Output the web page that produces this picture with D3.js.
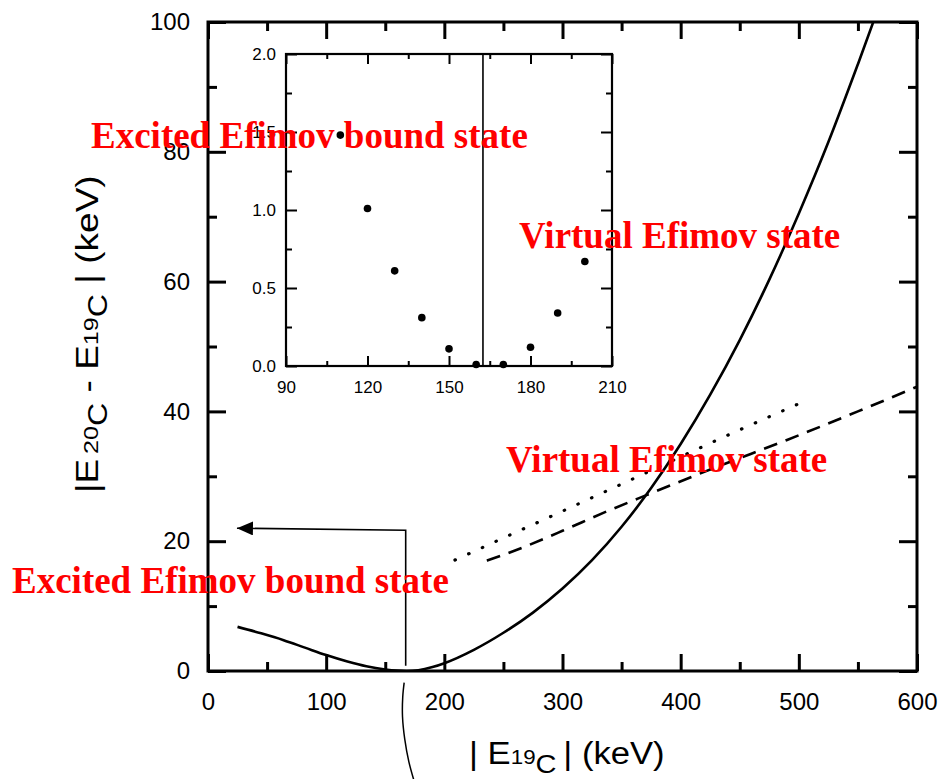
<!DOCTYPE html>
<html>
<head>
<meta charset="utf-8">
<script src="https://cdn.jsdelivr.net/npm/d3@7"></script>
<style>
  html, body { margin: 0; padding: 0; background: #fff; }
  svg { display: block; }
</style>
</head>
<body>
<script>
// ---------- DATA ----------
// main chart: solid curve
const solidX = [25, 45, 64, 82, 100, 118, 134, 150, 160, 168, 178, 190, 200, 225, 250, 275, 300, 325, 350, 375, 400, 425, 450, 475, 500, 525, 550, 575];
const solidY = [6.8, 5.8, 4.75, 3.6, 2.45, 1.45, 0.72, 0.24, 0.06, 0.0, 0.12, 0.6, 1.2, 3.26, 5.89, 9.0, 12.7, 17.07, 22.22, 28.18, 34.97, 42.57, 50.98, 60.3, 70.5, 81.5, 93.5, 106];
// dotted curve
const dottedX = [209, 250, 302, 350, 400, 431, 499];
const dottedY = [17.1, 20.5, 24.8, 28.8, 33.0, 35.6, 41.1];
// dashed curve
const dashedX = [236, 250, 270, 300, 335, 371, 430, 490, 550, 600];
const dashedY = [17.0, 17.9, 19.3, 21.6, 24.4, 27.1, 31.4, 35.6, 40.0, 43.8];
// inset points
const insetX = [110, 120, 130, 140, 150, 160, 170, 180, 190, 200];
const insetY = [1.48, 1.01, 0.61, 0.31, 0.11, 0.01, 0.01, 0.12, 0.34, 0.67];
const insetLineX = 162.5;

// ticks
const xTicks = [0, 100, 200, 300, 400, 500, 600];
const xMinor = [50, 150, 250, 350, 450, 550];
const yTicks = [0, 20, 40, 60, 80, 100];
const yMinor = [10, 30, 50, 70, 90];
const insetXTicks = [90, 120, 150, 180, 210];
const insetXMinor = [105, 135, 165, 195];
const insetYTicks = [0, 0.5, 1.0, 1.5, 2.0];
const insetYTickLabels = ["0.0", "0.5", "1.0", "1.5", "2.0"];
const insetYMinor = [0.25, 0.75, 1.25, 1.75];

// annotations (data units)
const markerLineX = [167.3, 167.3, 24.5];
const markerLineY = [0.8, 21.7, 22.0];
const braceX = [166, 164.8, 164.6, 166.5, 170, 174.5];
const braceY = [-1.8, -4, -7, -10.5, -14, -17];

const redLabels = ["Excited Efimov bound state", "Virtual Efimov state", "Virtual Efimov state", "Excited Efimov bound state"];

// ---------- LAYOUT ----------
const W = 941, H = 779;
const svg = d3.select("body").append("svg").attr("width", W).attr("height", H);
svg.append("rect").attr("width", W).attr("height", H).attr("fill", "#fff");

const x = d3.scaleLinear([0, 600], [208, 917]);
const y = d3.scaleLinear([0, 100], [671, 22]);
const ix = d3.scaleLinear([90, 210], [286, 612]);
const iy = d3.scaleLinear([0, 2], [366, 54]);

const sansFont = "'Liberation Sans', Arial, sans-serif";

function styleAxis(g, w, fontSize) {
  g.select(".domain").remove();
  g.selectAll(".tick line").attr("stroke", "#000").attr("stroke-width", w);
  g.selectAll(".tick text").attr("font-family", sansFont).attr("font-size", fontSize).attr("fill", "#000");
}

// ---------- MAIN AXES ----------
const axes = svg.append("g");
axes.append("g").attr("transform", `translate(0,${y(0)})`)
  .call(d3.axisBottom(x).tickValues(xTicks).tickSize(-17).tickPadding(22).tickFormat(d3.format("d")))
  .call(g => styleAxis(g, 3, 24));
axes.append("g").attr("transform", `translate(0,${y(0)})`)
  .call(d3.axisBottom(x).tickValues(xMinor).tickSize(-9).tickFormat(""))
  .call(g => styleAxis(g, 3, 24));
axes.append("g").attr("transform", `translate(0,${y(100)})`)
  .call(d3.axisTop(x).tickValues(xTicks).tickSize(-17).tickFormat(""))
  .call(g => styleAxis(g, 3, 24));
axes.append("g").attr("transform", `translate(0,${y(100)})`)
  .call(d3.axisTop(x).tickValues(xMinor).tickSize(-9).tickFormat(""))
  .call(g => styleAxis(g, 3, 24));
axes.append("g").attr("transform", `translate(${x(0)},0)`)
  .call(d3.axisLeft(y).tickValues(yTicks).tickSize(-18).tickPadding(18).tickFormat(d3.format("d")))
  .call(g => styleAxis(g, 3, 24));
axes.append("g").attr("transform", `translate(${x(0)},0)`)
  .call(d3.axisLeft(y).tickValues(yMinor).tickSize(-9).tickFormat(""))
  .call(g => styleAxis(g, 3, 24));
axes.append("g").attr("transform", `translate(${x(600)},0)`)
  .call(d3.axisRight(y).tickValues(yTicks).tickSize(-18).tickFormat(""))
  .call(g => styleAxis(g, 3, 24));
axes.append("g").attr("transform", `translate(${x(600)},0)`)
  .call(d3.axisRight(y).tickValues(yMinor).tickSize(-9).tickFormat(""))
  .call(g => styleAxis(g, 3, 24));
axes.append("rect")
  .attr("x", x(0)).attr("y", y(100)).attr("width", x(600) - x(0)).attr("height", y(0) - y(100))
  .attr("fill", "none").attr("stroke", "#000").attr("stroke-width", 3);

// ---------- CURVES ----------
svg.append("clipPath").attr("id", "plotclip").append("rect")
  .attr("x", x(0)).attr("y", y(100)).attr("width", x(600) - x(0)).attr("height", y(0) - y(100));

const smooth = d3.line().x(d => x(d[0])).y(d => y(d[1])).curve(d3.curveMonotoneX);
const curves = svg.append("g").attr("clip-path", "url(#plotclip)");
curves.append("path").datum(d3.zip(solidX, solidY)).attr("d", smooth)
  .attr("fill", "none").attr("stroke", "#000").attr("stroke-width", 2.6);
curves.append("path").datum(d3.zip(dottedX, dottedY)).attr("d", smooth)
  .attr("fill", "none").attr("stroke", "#000").attr("stroke-width", 3.2)
  .attr("stroke-dasharray", "0.5,14.5").attr("stroke-linecap", "round");
curves.append("path").datum(d3.zip(dashedX, dashedY)).attr("d", smooth)
  .attr("fill", "none").attr("stroke", "#000").attr("stroke-width", 2.6)
  .attr("stroke-dasharray", "14,9");

// ---------- INSET ----------
const inset = svg.append("g");
inset.append("g").attr("transform", `translate(0,${iy(0)})`)
  .call(d3.axisBottom(ix).tickValues(insetXTicks).tickSize(-10).tickPadding(15).tickFormat(d3.format("d")))
  .call(g => styleAxis(g, 2, 17));
inset.append("g").attr("transform", `translate(0,${iy(0)})`)
  .call(d3.axisBottom(ix).tickValues(insetXMinor).tickSize(-5).tickFormat(""))
  .call(g => styleAxis(g, 2, 17));
inset.append("g").attr("transform", `translate(0,${iy(2)})`)
  .call(d3.axisTop(ix).tickValues(insetXTicks).tickSize(-10).tickFormat(""))
  .call(g => styleAxis(g, 2, 17));
inset.append("g").attr("transform", `translate(0,${iy(2)})`)
  .call(d3.axisTop(ix).tickValues(insetXMinor).tickSize(-5).tickFormat(""))
  .call(g => styleAxis(g, 2, 17));
inset.append("g").attr("transform", `translate(${ix(90)},0)`)
  .call(d3.axisLeft(iy).tickValues(insetYTicks).tickSize(-11).tickPadding(10).tickFormat((d, i) => insetYTickLabels[i]))
  .call(g => styleAxis(g, 2, 17));
inset.append("g").attr("transform", `translate(${ix(90)},0)`)
  .call(d3.axisLeft(iy).tickValues(insetYMinor).tickSize(-6).tickFormat(""))
  .call(g => styleAxis(g, 2, 17));
inset.append("g").attr("transform", `translate(${ix(210)},0)`)
  .call(d3.axisRight(iy).tickValues(insetYTicks).tickSize(-11).tickFormat(""))
  .call(g => styleAxis(g, 2, 17));
inset.append("g").attr("transform", `translate(${ix(210)},0)`)
  .call(d3.axisRight(iy).tickValues(insetYMinor).tickSize(-6).tickFormat(""))
  .call(g => styleAxis(g, 2, 17));
inset.append("rect")
  .attr("x", ix(90)).attr("y", iy(2)).attr("width", ix(210) - ix(90)).attr("height", iy(0) - iy(2))
  .attr("fill", "none").attr("stroke", "#000").attr("stroke-width", 2.2);
inset.append("line")
  .attr("x1", ix(insetLineX)).attr("x2", ix(insetLineX)).attr("y1", iy(2)).attr("y2", iy(0))
  .attr("stroke", "#000").attr("stroke-width", 1.6);
inset.selectAll("circle.pt").data(d3.zip(insetX, insetY)).join("circle")
  .attr("class", "pt").attr("cx", d => ix(d[0])).attr("cy", d => iy(d[1])).attr("r", 3.8).attr("fill", "#000");

// ---------- ANNOTATIONS ----------
const defs = svg.append("defs");
defs.append("marker").attr("id", "arrowhead")
  .attr("markerUnits", "userSpaceOnUse").attr("markerWidth", 18).attr("markerHeight", 14)
  .attr("refX", 16).attr("refY", 7).attr("orient", "auto")
  .append("path").attr("d", "M0,0 L16,7 L0,14 Z").attr("fill", "#000");

const straight = d3.line().x(d => x(d[0])).y(d => y(d[1]));
svg.append("path").datum(d3.zip(markerLineX, markerLineY)).attr("d", straight)
  .attr("fill", "none").attr("stroke", "#000").attr("stroke-width", 1.6)
  .attr("marker-end", "url(#arrowhead)");
svg.append("path").datum(d3.zip(braceX, braceY))
  .attr("d", d3.line().x(d => x(d[0])).y(d => y(d[1])).curve(d3.curveCatmullRom))
  .attr("fill", "none").attr("stroke", "#000").attr("stroke-width", 1.5);

// ---------- AXIS TITLES ----------
function buildLabel(parts, transform, targetLen) {
  const g = svg.append("g");
  const t = g.append("text").attr("font-family", sansFont).attr("fill", "#000");
  parts.forEach(p => {
    const ts = t.append("tspan").attr("font-size", p.size).text(p.text);
    if (p.dy) ts.attr("dy", p.dy);
    if (p.dx) ts.attr("dx", p.dx);
  });
  const len = t.node().getComputedTextLength();
  const sx = targetLen / len;
  g.attr("transform", transform + ` scale(${sx},1)`);
}
buildLabel([
  { text: "| E", size: 31 },
  { text: "19", size: 20 },
  { text: "C", size: 26, dy: 9 },
  { text: "| (keV)", size: 31, dy: -9, dx: 6 }
], "translate(469,764)", 189);

buildLabel([
  { text: "|E", size: 31 },
  { text: "20", size: 21, dx: 4 },
  { text: "C", size: 27, dy: 9 },
  { text: " - E", size: 31, dy: -9 },
  { text: "19", size: 21 },
  { text: "C", size: 27, dy: 9 },
  { text: " | (keV)", size: 31, dy: -9 }
], "translate(98,493) rotate(-90)", 313);

// ---------- RED LABELS ----------
const redPos = [[91, 148], [519, 248], [506, 472], [12, 593]];
svg.append("g").selectAll("text").data(redLabels).join("text")
  .attr("x", (d, i) => redPos[i][0]).attr("y", (d, i) => redPos[i][1])
  .attr("font-family", "'Liberation Serif', 'Times New Roman', serif")
  .attr("font-weight", "bold").attr("font-size", 37).attr("fill", "#ff0000")
  .text(d => d);
</script>
</body>
</html>
